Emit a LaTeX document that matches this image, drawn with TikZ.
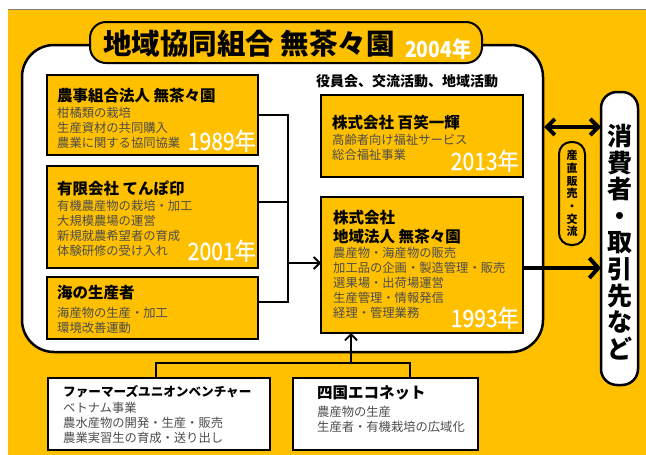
\documentclass[tikz,border=0pt]{standalone}
\usepackage{fontspec}
\setmainfont{Noto Sans CJK JP}
\newfontfamily\yrfont{Noto Sans CJK JP}[FakeStretch=0.88, FakeBold=0.6]
\newfontfamily\yrfontb{Noto Sans CJK JP}[FakeStretch=0.88]
\usetikzlibrary{arrows.meta}
\definecolor{gold}{HTML}{FFC000}
\definecolor{bodygray}{HTML}{4D4D4D}
\begin{document}
\begin{tikzpicture}[x=1pt,y=-1pt,
  box/.style={draw=black, line width=2pt, fill=gold, anchor=north west, inner sep=0pt, outer sep=0pt},
  wbox/.style={box, fill=white},
  ttl/.style={anchor=west, font=\fontsize{15.5}{19}\selectfont\bfseries, inner sep=0pt, align=left},
  body/.style={anchor=west, align=left, font=\fontsize{12.3}{15}\selectfont, text=bodygray, inner sep=0pt},
  yr/.style={anchor=base east, font=\yrfont\fontsize{24}{26}\selectfont, text=white, inner sep=0pt},
  conn/.style={line width=1.8pt},
  arr/.style={conn, -{Straight Barb[length=6pt, width=12pt]}},
  bigarr/.style={line width=4pt},
]
\useasboundingbox (0,0) rectangle (646,455);
\fill[gold] (8,9) rectangle (646,455);
\draw[gray, line width=0.8pt] (8,9) -- (646,9);
% white area
\draw[line width=2.5pt, fill=white, rounded corners=32pt] (22,45) rectangle (543,352);
% title
\node[box, rounded corners=16pt, minimum width=392pt, minimum height=41pt] (title) at (90,22) {};
\node[anchor=base west, font=\fontsize{28.5}{30}\selectfont\bfseries, inner sep=0pt] (titletext) at (103,54) {地域協同組合 無茶々園};
\node[anchor=base west, font=\yrfontb\fontsize{22}{24}\selectfont\bfseries, text=white, inner sep=0pt] (titleyear) at (405,57) {2004年};
% box 1
\node[box, minimum width=211pt, minimum height=80pt] (b1) at (47,75) {};
\node[ttl] (b1t) at (57,96) {農事組合法人 無茶々園};
\node[body] (b1b) at (57,127.5) {柑橘類の栽培\\生産資材の共同購入\\農業に関する協同協業};
\node[yr] (b1y) at (256,150) {1989年};
% box 2
\node[box, minimum width=211pt, minimum height=102pt] (b2) at (47,166) {};
\node[ttl] (b2t) at (57,188) {有限会社 てんぽ印};
\node[body] (b2b) at (57,228) {有機農産物の栽培・加工\\大規模農場の運営\\新規就農希望者の育成\\体験研修の受け入れ};
\node[yr] (b2y) at (256,260) {2001年};
% box 3
\node[box, minimum width=211pt, minimum height=62pt] (b3) at (47,277) {};
\node[ttl] (b3t) at (57,293) {海の生産者};
\node[body] (b3b) at (57,320) {海産物の生産・加工\\環境改善運動};
% right top box
\node[anchor=west, font=\fontsize{14}{16}\selectfont\bfseries, inner sep=0pt] (lbl) at (316,81) {役員会、交流活動、地域活動};
\node[box, minimum width=202pt, minimum height=82pt] (rb) at (321,95) {};
\node[ttl] (rbt) at (332,123) {株式会社 百笑一輝};
\node[body] (rbb) at (332,147.5) {高齢者向け福祉サービス\\総合福祉事業};
\node[yr] (rby) at (519,170) {2013年};
% main box
\node[box, minimum width=202pt, minimum height=136pt] (mb) at (321,197) {};
\node[ttl] (mbt) at (333,227.5) {株式会社\\地域法人 無茶々園};
\node[body] (mbb) at (333,283) {農産物・海産物の販売\\加工品の企画・製造管理・販売\\選果場・出荷場運営\\生産管理・情報発信\\経理・管理業務};
\node[yr] (mby) at (519,327) {1993年};
% bottom boxes
\node[wbox, minimum width=222pt, minimum height=72pt] (bF) at (48,378) {};
\node[ttl, font=\fontsize{12.6}{15}\selectfont\bfseries] (bFt) at (63,392) {ファーマーズユニオンベンチャー};
\node[body] (bFb) at (63,422.5) {ベトナム事業\\農水産物の開発・生産・販売\\農業実習生の育成・送り出し};
\node[wbox, minimum width=185pt, minimum height=72pt] (bS) at (293,378) {};
\node[ttl] (bSt) at (317,393) {四国エコネット};
\node[body] (bSb) at (317,419.5) {農産物の生産\\生産者・有機栽培の広域化};
% consumer box
\node[draw, line width=2.5pt, fill=white, rounded corners=16pt, minimum width=37pt, minimum height=293pt, anchor=north west, inner sep=0pt, outer sep=0pt] (cons) at (601,92) {};
\node[font=\fontsize{25}{26.6}\selectfont\bfseries, align=center, inner sep=0pt] (constext) at (619.5,242) {消\\費\\者\\・\\取\\引\\先\\な\\ど};
% sanchoku box
\node[draw, line width=2pt, fill=gold, rounded corners=12pt, minimum width=26pt, minimum height=103pt, anchor=north west, inner sep=0pt, outer sep=0pt] (sanchoku) at (559,142) {};
\node[font=\fontsize{11}{12.7}\selectfont\bfseries, align=center, inner sep=0pt] (sanchokutext) at (572,193.5) {産\\直\\販\\売\\・\\交\\流};
% left connectors
\coordinate (jtop) at (288,115);
\coordinate (jbot) at (288,302);
\coordinate (jarr) at (288,263);
\draw[conn] (b1.east) -- (jtop) -- (jbot) -- (jbot -| b3.east);
\draw[conn] ([yshift=15pt]b2.east) -- ([yshift=15pt]b2.east -| jtop);
\draw[arr] (jarr) -- (jarr -| mb.west);
% bottom connectors
\coordinate (bl) at (156,363);
\coordinate (br) at (410,363);
\coordinate (barr) at (351,363);
\draw[conn] (bl |- bF.north) -- (bl) -- (br) -- (br |- bS.north);
\draw[arr] (barr) -- (barr |- mb.south);
% right arrows
\coordinate (darrL) at (544,127);
\draw[bigarr, {Straight Barb[length=8pt, width=16pt]}-{Straight Barb[length=8pt, width=16pt]}] (darrL) -- (darrL -| cons.west);
\coordinate (marr) at (523,268);
\draw[bigarr, -{Straight Barb[length=9pt, width=20pt]}] (marr) -- (marr -| cons.west);
\end{tikzpicture}
\end{document}
